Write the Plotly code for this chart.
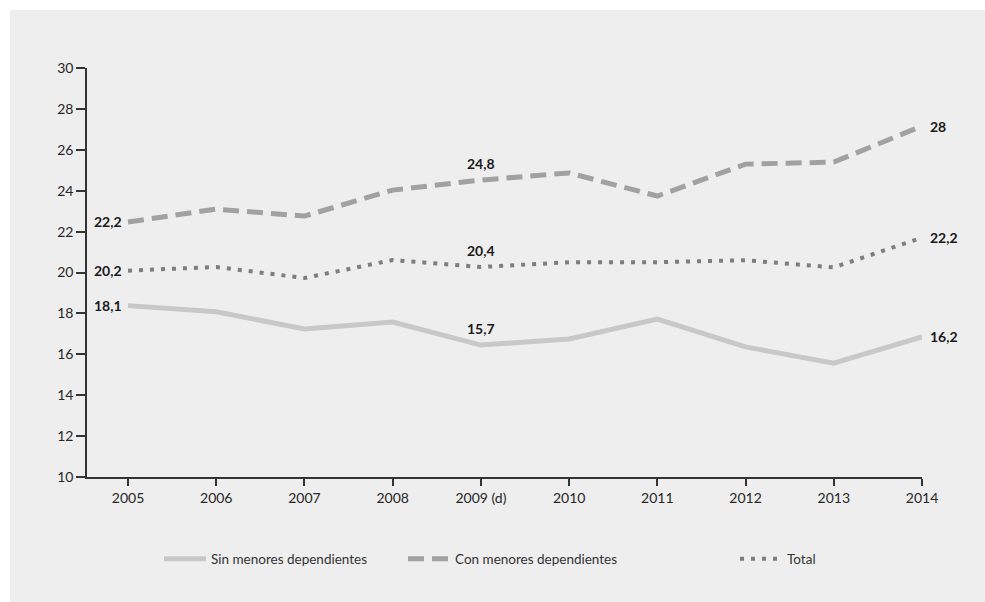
import plotly.graph_objects as go

years = ["2005", "2006", "2007", "2008", "2009 (d)", "2010", "2011", "2012", "2013", "2014"]
sin_menores = [18.38, 18.08, 17.24, 17.58, 16.45, 16.75, 17.72, 16.36, 15.57, 16.85]
con_menores = [22.47, 23.10, 22.76, 24.03, 24.52, 24.87, 23.74, 25.30, 25.40, 27.16]
total = [20.09, 20.27, 19.73, 20.61, 20.27, 20.50, 20.50, 20.60, 20.25, 21.70]

names = ["Sin menores dependientes", "Con menores dependientes", "Total"]
labels_first = ["18,1", "22,2", "20,2"]
labels_mid = ["15,7", "24,8", "20,4"]
labels_last = ["16,2", "28", "22,2"]
mid_index = 4

series = [sin_menores, con_menores, total]
colors = ["#c8c8c9", "#a1a1a3", "#7e7e80"]
widths = [5, 5, 4]
dashes = ["solid", "16px,8px", "4px,7px"]
legend_ids = ["legend", "legend2", "legend3"]

FONT = "Lato"
x_idx = list(range(len(years)))

fig = go.Figure()
for s, name, c, w, d, lg in zip(series, names, colors, widths, dashes, legend_ids):
    fig.add_trace(go.Scatter(
        x=x_idx, y=s, name=name, mode="lines",
        line=dict(color=c, width=w, dash=d),
        legend=lg, showlegend=True, hoverinfo="skip",
    ))

annotations = []
for s, a, b, e in zip(series, labels_first, labels_mid, labels_last):
    annotations.append(dict(x=x_idx[0], y=s[0], xref="x", yref="y", text=a,
                            showarrow=False, xanchor="right", yanchor="middle", xshift=-4,
                            font=dict(family=FONT, size=14, color="#1a1a1a", weight="bold")))
    annotations.append(dict(x=x_idx[mid_index], y=s[mid_index], xref="x", yref="y", text=b,
                            showarrow=False, xanchor="center", yanchor="bottom", yshift=6,
                            font=dict(family=FONT, size=14, color="#1a1a1a", weight="bold")))
    annotations.append(dict(x=x_idx[-1], y=s[-1], xref="x", yref="y", text=e,
                            showarrow=False, xanchor="left", yanchor="middle", xshift=6,
                            font=dict(family=FONT, size=14, color="#1a1a1a", weight="bold")))

L, R, T, B = 87, 63, 68, 125
W, H = 985, 602
pw, ph = W - L - R, H - T - B

def px_to_paper_x(px):
    return (px - L) / pw

def px_to_paper_y(py):
    return (H - B - py) / ph

legend_common = dict(orientation="h", yanchor="middle", xanchor="left",
                     bgcolor="rgba(0,0,0,0)", borderwidth=0, itemwidth=42,
                     font=dict(family=FONT, size=13.5, color="#333333"))

fig.update_layout(
    width=W, height=H,
    margin=dict(l=L, r=R, t=T, b=B),
    paper_bgcolor="white",
    plot_bgcolor="rgba(0,0,0,0)",
    showlegend=True,
    font=dict(family=FONT, size=14, color="#333333"),
    xaxis=dict(
        range=[-0.465, len(years) - 1],
        tickmode="array", tickvals=x_idx, ticktext=years,
        showgrid=False, zeroline=False,
        showline=True, linecolor="#333333", linewidth=1.5,
        ticks="outside", ticklen=7, tickwidth=1.5, tickcolor="#333333",
        tickfont=dict(family=FONT, size=14, color="#262626"),
    ),
    yaxis=dict(
        range=[10, 30], tickmode="array", tickvals=list(range(10, 31, 2)),
        showgrid=False, zeroline=False,
        showline=True, linecolor="#333333", linewidth=1.5,
        ticks="outside", ticklen=9, tickwidth=1.5, tickcolor="#333333",
        tickfont=dict(family=FONT, size=14, color="#262626"),
    ),
    legend=dict(x=px_to_paper_x(159), y=px_to_paper_y(559), **legend_common),
    legend2=dict(x=px_to_paper_x(403), y=px_to_paper_y(559), **legend_common),
    legend3=dict(x=px_to_paper_x(735), y=px_to_paper_y(559), **legend_common),
    annotations=annotations,
    shapes=[dict(type="rect", xref="paper", yref="paper", layer="below",
                 x0=px_to_paper_x(10), x1=px_to_paper_x(W + 5),
                 y0=px_to_paper_y(H + 5), y1=px_to_paper_y(10),
                 fillcolor="#eeeeee", line=dict(width=0))],
)

fig.write_html("out.html", config={"displayModeBar": False},
               post_script="document.body.style.margin='0';document.body.style.overflow='hidden';")
